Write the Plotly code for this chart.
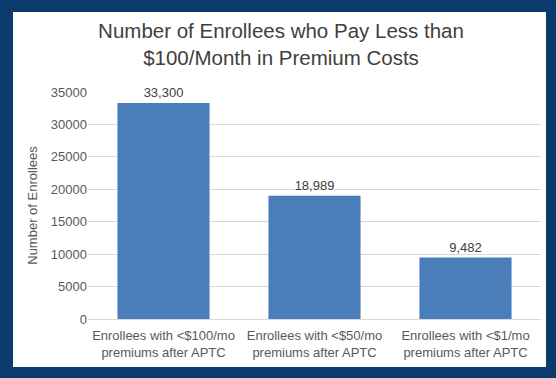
import plotly.graph_objects as go

categories = ["Enrollees with <$100/mo<br>premiums after APTC",
              "Enrollees with <$50/mo<br>premiums after APTC",
              "Enrollees with <$1/mo<br>premiums after APTC"]
values = [33300, 18989, 9482]
tick_vals = [0, 5000, 10000, 15000, 20000, 25000, 30000, 35000]

W, H = 556, 378
L, R, T, B = 88, 15, 92, 59
pw, ph = W - L - R, H - T - B

FONT = "Liberation Sans, Arial, sans-serif"

fig = go.Figure(go.Bar(
    x=categories, y=values,
    marker=dict(color="#4a7ebb", line=dict(width=0)),
    texttemplate="%{y:,}", textposition="outside", cliponaxis=False,
    textfont=dict(family=FONT, size=13, color="#404040"),
))

fig.add_shape(type="rect", xref="paper", yref="paper",
              x0=(13 - L) / pw, x1=(546 - L) / pw,
              y0=(H - B - 367) / ph, y1=(H - B - 12) / ph,
              fillcolor="white", line=dict(width=0), layer="below")

fig.update_layout(
    width=W, height=H, autosize=False,
    margin=dict(l=L, r=R, t=T, b=B),
    paper_bgcolor="#0b3a6c", plot_bgcolor="white",
    bargap=0.39, showlegend=False,
    font=dict(family=FONT, color="#595959"),
    title=dict(text="Number of Enrollees who Pay Less than<br>$100/Month in Premium Costs",
               x=281 / W, xanchor="center", y=1 - 38 / H, yanchor="middle",
               font=dict(family=FONT, size=20.5, color="#404040")),
    xaxis=dict(showgrid=False, showline=True, linecolor="#d9d9d9", linewidth=1,
               ticks="", ticklabelstandoff=4, tickfont=dict(size=13, color="#595959")),
    yaxis=dict(range=[0, 35000], tickvals=tick_vals, tickformat="d",
               showgrid=True, gridcolor="#d9d9d9", gridwidth=1, zeroline=False,
               showline=False, ticks="", ticklen=0,
               tickfont=dict(size=13, color="#595959"),
               title=dict(text="Number of Enrollees", font=dict(size=13, color="#595959"),
                          standoff=10)),
)

fig.write_html("out.html", config=dict(displayModeBar=False),
               post_script="document.body.style.margin='0';document.documentElement.style.overflow='hidden';")
